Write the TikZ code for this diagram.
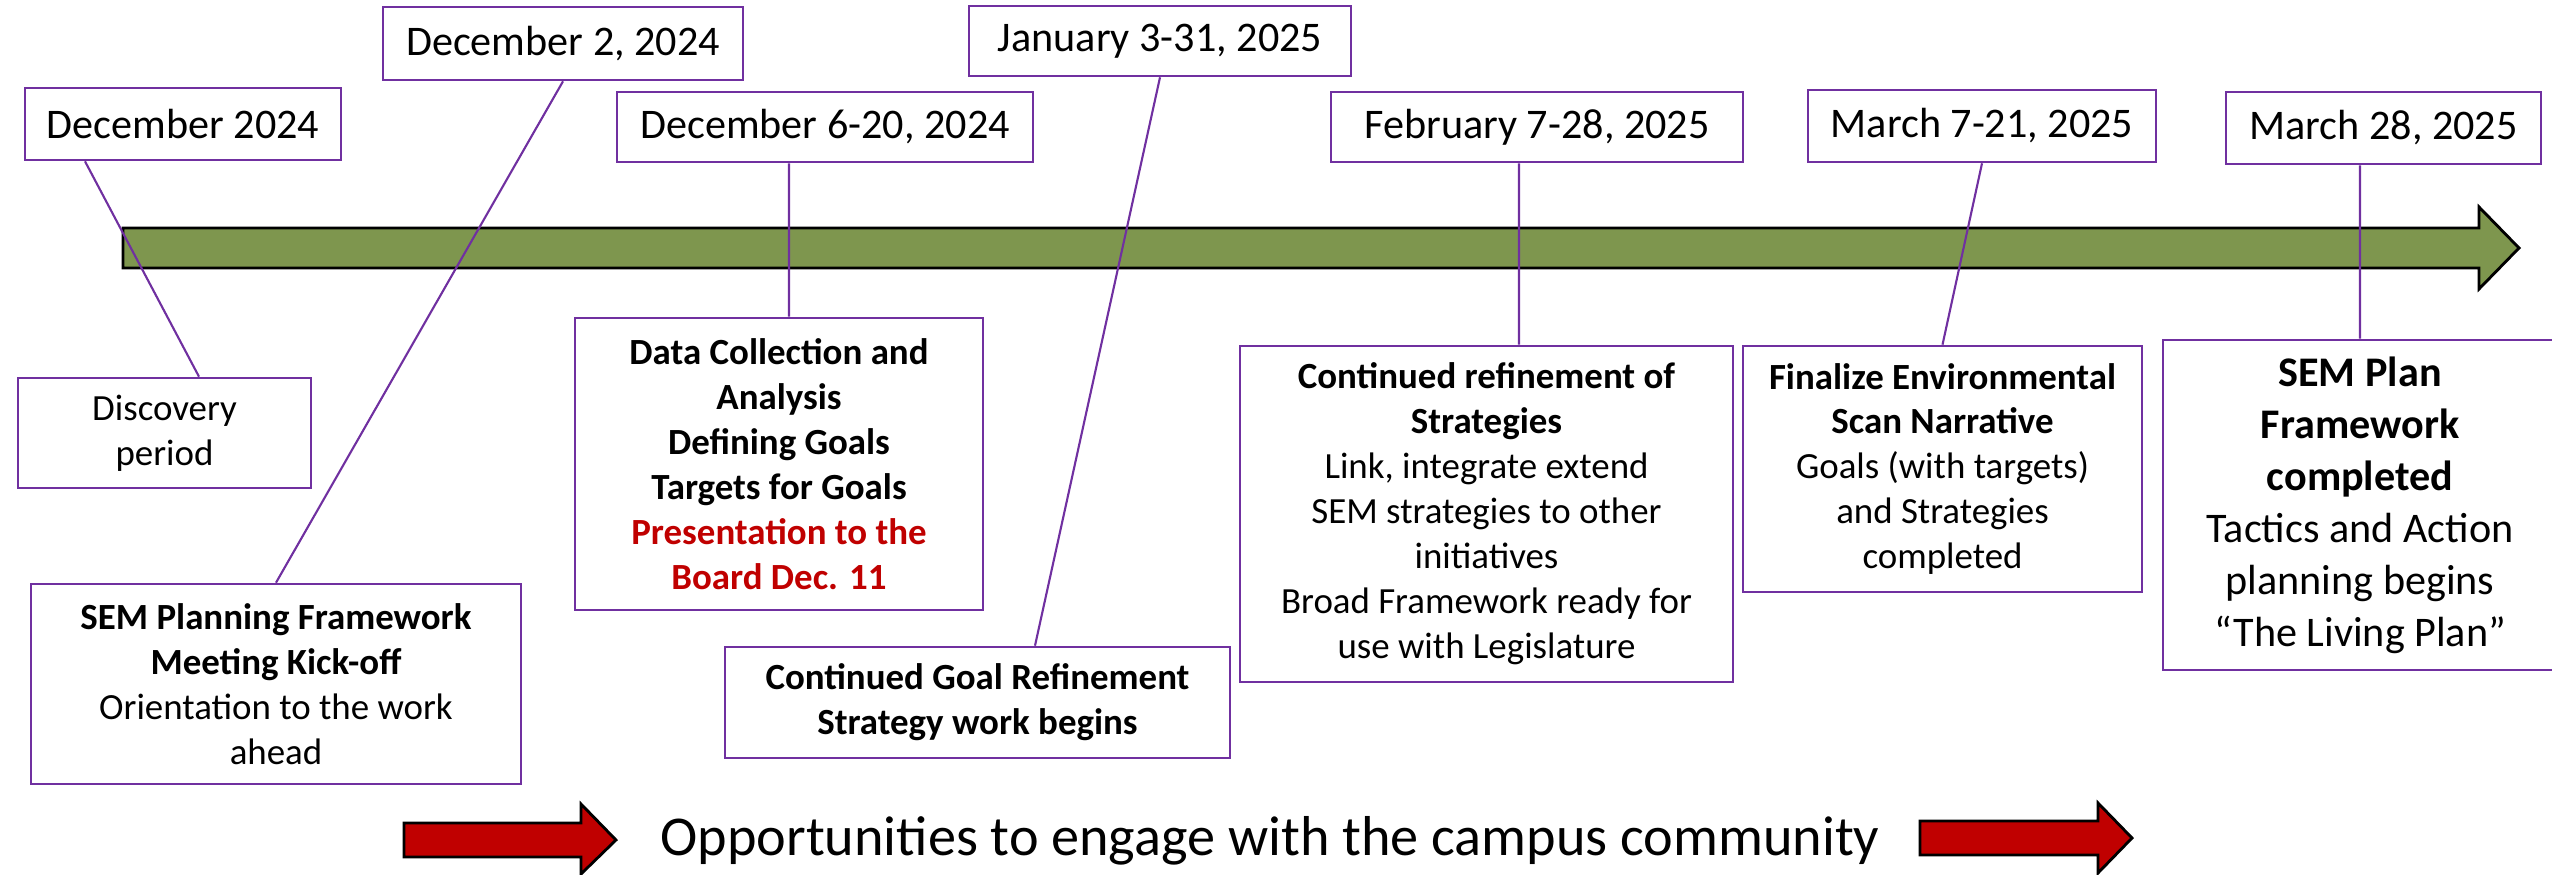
\documentclass[tikz,border=0pt]{standalone}
\usepackage{fontspec}
\setmainfont{Carlito}
\usetikzlibrary{calc}
\definecolor{tlpurple}{RGB}{112,48,160}
\definecolor{tlgreen}{RGB}{126,150,78}
\definecolor{tlred}{RGB}{192,0,0}
\tikzset{
  datebox/.style = {draw=tlpurple, line width=0.75pt, fill=white, inner sep=2pt,
                    font=\fontsize{12}{14.6}\selectfont},
  evbox/.style   = {draw=tlpurple, line width=0.75pt, fill=white, inner sep=2pt,
                    align=center, font=\fontsize{10.5}{12.8}\selectfont},
  bigbox/.style  = {evbox, font=\fontsize{12}{14.8}\selectfont},
  link/.style    = {draw=tlpurple, line width=0.6pt},
  tbar/.style    = {draw=black, line width=0.8pt, fill=tlgreen},
  rarr/.style    = {draw=black, line width=0.8pt, fill=tlred},
  opptext/.style = {font=\fontsize{16}{19}\selectfont, inner sep=0pt},
}
\newcommand{\hd}[1]{\textbf{#1}}
\newcommand{\hdr}[1]{\textcolor{tlred}{\textbf{#1}}}

\begin{document}
\begin{tikzpicture}
  \useasboundingbox (0,0) rectangle (25.52,-8.75);
  \draw[tbar] (1.23,-2.28) -- (24.79,-2.28) -- (24.79,-2.07) -- (25.19,-2.48)
    -- (24.79,-2.89) -- (24.79,-2.68) -- (1.23,-2.68) -- cycle;
  \node[datebox, minimum width=3.16cm, minimum height=0.72cm] (d1) at (1.83,-1.24) {December 2024};
  \node[datebox, minimum width=3.60cm, minimum height=0.73cm] (d2) at (5.63,-0.435) {December 2, 2024};
  \node[datebox, minimum width=4.16cm, minimum height=0.70cm] (d3) at (8.25,-1.27) {December 6-20, 2024};
  \node[datebox, minimum width=3.82cm, minimum height=0.70cm] (d4) at (11.60,-0.41) {January 3-31, 2025};
  \node[datebox, minimum width=4.12cm, minimum height=0.70cm] (d5) at (15.37,-1.27) {February 7-28, 2025};
  \node[datebox, minimum width=3.48cm, minimum height=0.72cm] (d6) at (19.82,-1.26) {March 7-21, 2025};
  \node[datebox, minimum width=3.15cm, minimum height=0.72cm] (d7) at (23.835,-1.28) {March 28, 2025};
  \node[evbox, minimum width=2.93cm, minimum height=1.10cm] (b1) at (1.645,-4.33) {Discovery\\period};
  \node[evbox, minimum width=4.90cm, minimum height=2.00cm] (b2) at (2.76,-6.84)
    {\hd{SEM Planning Framework}\\\hd{Meeting Kick-off}\\Orientation to the work\\ahead};
  \node[evbox, minimum width=4.08cm, minimum height=2.92cm] (b3) at (7.79,-4.64)
    {\hd{Data Collection and}\\\hd{Analysis}\\\hd{Defining Goals}\\\hd{Targets for Goals}\\
     \hdr{Presentation to the}\\\hdr{Board Dec. 11}};
  \node[evbox, minimum width=5.05cm, minimum height=1.11cm] (b4) at (9.775,-7.025)
    {\hd{Continued Goal Refinement}\\\hd{Strategy work begins}};
  \node[evbox, minimum width=4.93cm, minimum height=3.36cm] (b5) at (14.865,-5.14)
    {\hd{Continued refinement of}\\\hd{Strategies}\\Link, integrate extend\\SEM strategies to other\\
     initiatives\\Broad Framework ready for\\use with Legislature};
  \node[evbox, minimum width=3.99cm, minimum height=2.46cm] (b6) at (19.425,-4.69)
    {\hd{Finalize Environmental}\\\hd{Scan Narrative}\\Goals (with targets)\\and Strategies\\completed};
  \node[bigbox, minimum width=3.94cm, minimum height=3.30cm] (b7) at (23.60,-5.05)
    {\hd{SEM Plan}\\\hd{Framework}\\\hd{completed}\\Tactics and Action\\planning begins\\“The Living Plan”};
  \draw[link] ($(d1.south)+(-0.98,0)$) -- ($(b1.north)+(0.345,0)$);
  \draw[link] (d2.south) -- (b2.north);
  \draw[link] ($(d3.south)+(-0.36,0)$) -- ($(b3.north)+(0.10,0)$);
  \draw[link] (d4.south) -- ($(b4.north)+(0.575,0)$);
  \draw[link] ($(d5.south)+(-0.18,0)$) -- ($(b5.north)+(0.325,0)$);
  \draw[link] (d6.south) -- (b6.north);
  \draw[link] ($(d7.south)+(-0.235,0)$) -- (b7.north);
  \draw[rarr] (4.04,-8.23) -- (5.81,-8.23) -- (5.81,-8.04) -- (6.16,-8.40)
    -- (5.81,-8.74) -- (5.81,-8.57) -- (4.04,-8.57) -- cycle;
  \node[opptext, anchor=base] (opp) at (12.70,-8.55) {Opportunities to engage with the campus community};
  \draw[rarr] (19.20,-8.21) -- (20.98,-8.21) -- (20.98,-8.03) -- (21.32,-8.38)
    -- (20.98,-8.73) -- (20.98,-8.55) -- (19.20,-8.55) -- cycle;
\end{tikzpicture}
\end{document}
